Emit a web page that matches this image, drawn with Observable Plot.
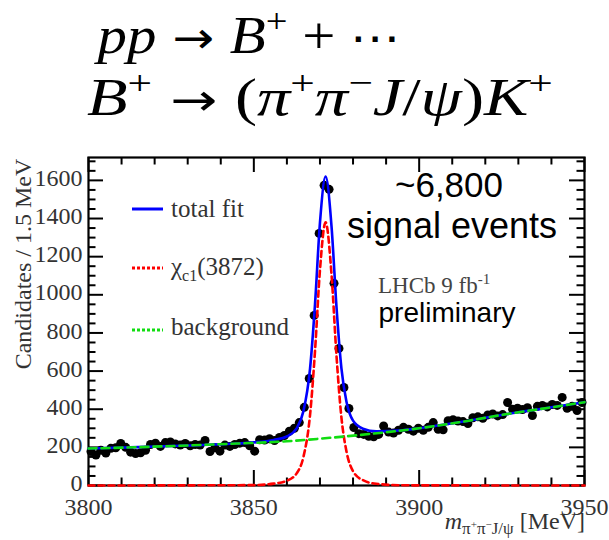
<!DOCTYPE html>
<html>
<head>
<meta charset="utf-8">
<script src="https://cdn.jsdelivr.net/npm/d3@7"></script>
<script src="https://cdn.jsdelivr.net/npm/@observablehq/plot@0.6"></script>
<style>
  html, body { margin: 0; padding: 0; background: white; }
  #wrap { position: relative; width: 609px; height: 540px; overflow: hidden; }
  #wrap > svg { position: absolute; left: 0; top: 0; }
  #overlay { pointer-events: none; }
</style>
</head>
<body>
<div id="wrap"></div>
<script>
// ---- data ----
const binStart = 3800, binWidth = 1.5;
const counts = [
  178, 160, 185, 170, 195, 198, 220, 200, 175, 168,
  172, 185, 215, 222, 205, 225, 228, 218, 212, 220,
  208, 215, 212, 236, 178, 198, 180, 212, 205, 215,
  222, 225, 208, 180, 240, 238, 245, 236, 252, 262,
  285, 300, 330, 410, 561, 892, 1322, 1574, 1553, 1060,
  719, 514, 404, 304, 272, 268, 258, 255, 268, 312,
  280, 275, 290, 305, 295, 285, 300, 290, 305, 330,
  295, 292, 340, 345, 338, 335, 325, 355, 360, 352,
  370, 375, 365, 372, 435, 400, 405, 398, 408, 367,
  415, 420, 412, 425, 420, 462, 405, 415, 393, 435
];
// total fit (blue)
const totalMass = [3800, 3815, 3830, 3845, 3850, 3856, 3860, 3863, 3865, 3867, 3868.5, 3870, 3871.7, 3873.5, 3875, 3876.5, 3878, 3880, 3883, 3887, 3895, 3900, 3915, 3925, 3940, 3950];
const totalVal  = [194, 201, 210, 220, 226, 239, 257, 301, 390, 613, 950, 1378, 1620, 1358, 936, 613, 441, 340, 298, 284, 290, 300, 340, 370, 410, 437];
// chi_c1(3872) component (red)
const sigMass = [3800, 3850, 3856, 3860, 3863, 3865, 3867, 3868.5, 3870, 3871.7, 3873.5, 3875, 3876.5, 3878, 3880, 3883, 3887, 3895, 3950];
const sigVal  = [0, 2, 10, 25, 65, 150, 370, 705, 1130, 1380, 1105, 680, 355, 180, 75, 28, 9, 1, 0];
// background (green)
const bgMass = [3800, 3815, 3830, 3845, 3860, 3873, 3885, 3900, 3915, 3925, 3940, 3950];
const bgVal  = [194, 201, 210, 220, 232, 250, 270, 300, 340, 370, 410, 437];
// axes
const xMajor = [3800, 3850, 3900, 3950];
const xMinor = [3810, 3820, 3830, 3840, 3860, 3870, 3880, 3890, 3910, 3920, 3930, 3940];
const yMajor = [0, 200, 400, 600, 800, 1000, 1200, 1400, 1600];
const yMinor = [50, 100, 150, 250, 300, 350, 450, 500, 550, 650, 700, 750, 850, 900, 950, 1050, 1100, 1150, 1250, 1300, 1350, 1450, 1500, 1550, 1650, 1700];
const xDomain = [3800, 3950], yDomain = [0, 1720];

// ---- build tables ----
const points = counts.map((c, i) => ({m: binStart + binWidth * (i + 0.5), n: c}));
const totalT = totalMass.map((m, i) => ({m, v: totalVal[i]}));
const sigT = sigMass.map((m, i) => ({m, v: sigVal[i]}));
const bgT = bgMass.map((m, i) => ({m, v: bgVal[i]}));

const W = 609, H = 540, mT = 157, mB = 55, mL = 88, mR = 25;
const fw = W - mL - mR, fh = H - mT - mB;
const major = 15, minor = 7.5;

const chart = Plot.plot({
  width: W, height: H,
  marginTop: mT, marginBottom: mB, marginLeft: mL, marginRight: mR,
  x: {domain: xDomain},
  y: {domain: yDomain},
  style: {fontFamily: "Liberation Serif", fontSize: "24px", color: "#333", background: "white", overflow: "visible"},
  marks: [
    Plot.axisX(xMajor, {tickSize: 0, tickPadding: 12, tickFormat: d => String(d), label: null, fontSize: 24, fill: "#333"}),
    Plot.axisY(yMajor, {tickSize: 0, tickPadding: 6, tickFormat: d => String(d), label: null, fontSize: 24, fill: "#333", dy: -2}),
    // inward ticks on all four sides
    Plot.tickX(xMajor, {x: d => d, insetTop: fh - major, stroke: "black", strokeWidth: 2}),
    Plot.tickX(xMinor, {x: d => d, insetTop: fh - minor, stroke: "black", strokeWidth: 2}),
    Plot.tickX(xMajor, {x: d => d, insetBottom: fh - major, stroke: "black", strokeWidth: 2}),
    Plot.tickX(xMinor, {x: d => d, insetBottom: fh - minor, stroke: "black", strokeWidth: 2}),
    Plot.tickY(yMajor, {y: d => d, insetRight: fw - major, stroke: "black", strokeWidth: 2}),
    Plot.tickY(yMinor, {y: d => d, insetRight: fw - minor, stroke: "black", strokeWidth: 2}),
    Plot.tickY(yMajor, {y: d => d, insetLeft: fw - major, stroke: "black", strokeWidth: 2}),
    Plot.tickY(yMinor, {y: d => d, insetLeft: fw - minor, stroke: "black", strokeWidth: 2}),
    Plot.frame({stroke: "black", strokeWidth: 2.2}),
    Plot.dot(points, {x: "m", y: "n", r: 4.5, fill: "black", stroke: "none"}),
    Plot.line(totalT, {x: "m", y: "v", stroke: "#0000ff", strokeWidth: 2.6, curve: "monotone-x"}),
    Plot.line(sigT, {x: "m", y: "v", stroke: "#ff0000", strokeWidth: 2.6, strokeDasharray: "6,4", curve: "monotone-x"}),
    Plot.line(bgT, {x: "m", y: "v", stroke: "#11dd11", strokeWidth: 2.6, strokeDasharray: "8,5", curve: "monotone-x"})
  ]
});
document.getElementById("wrap").appendChild(chart);

// ---- overlay texts (title, labels, legend, annotations) ----
const serif = "Liberation Serif", sans = "Liberation Sans", sym = "DejaVu Sans";
const I = s => `<tspan font-style="italic">${s}</tspan>`;
const SUP = s => `<tspan font-size="34" dy="-21">${s}</tspan>`;
const BACK = (s, italic = false) => `<tspan dy="21"${italic ? ' font-style="italic"' : ''}>${s}</tspan>`;
const ARROW = `<tspan font-family="${sym}" font-size="44"> → </tspan>`;
const overlay = `
<svg id="overlay" width="${W}" height="${H}" xmlns="http://www.w3.org/2000/svg">
  <g font-family="${serif}" fill="black" font-size="52">
    <text id="t1" x="93" y="53">${I("pp")}${ARROW}${I("B")}${SUP("+")}${BACK(" + ")}<tspan font-family="${sym}" font-size="44">⋯</tspan></text>
    <text id="t2" x="87" y="115">${I("B")}${SUP("+")}<tspan dy="21" font-family="${sym}" font-size="44"> → </tspan>(${I("π")}${SUP("+")}${BACK("π", true)}${SUP("−")}${BACK("J", true)}/${I("ψ")})${I("K")}${SUP("+")}</text>
  </g>
  <text transform="translate(31,264) rotate(-90)" text-anchor="middle" font-family="${serif}" font-size="24" fill="#333">Candidates / 1.5 MeV</text>
  <text x="585" y="529" text-anchor="end" font-family="${serif}" font-size="24" fill="#333"><tspan font-style="italic">m</tspan><tspan font-size="17" dy="5">π</tspan><tspan font-size="11" dy="-6">+</tspan><tspan font-size="17" dy="6">π</tspan><tspan font-size="11" dy="-6">−</tspan><tspan font-size="17" dy="6">J/ψ</tspan><tspan dy="-5"> [MeV]</tspan></text>
  <g font-family="${serif}" font-size="25" fill="#333">
    <line x1="132" x2="163" y1="209" y2="209" stroke="#0000ff" stroke-width="3"/>
    <text x="171" y="217">total fit</text>
    <line x1="132" x2="163" y1="268" y2="268" stroke="#ff0000" stroke-width="3" stroke-dasharray="3,2"/>
    <text x="171" y="275">χ<tspan font-size="16" dy="6">c1</tspan><tspan dy="-6">(3872)</tspan></text>
    <line x1="132" x2="163" y1="330" y2="330" stroke="#11dd11" stroke-width="3" stroke-dasharray="3,2"/>
    <text x="171" y="335">background</text>
  </g>
  <g font-family="${sans}" fill="black" text-anchor="middle">
    <text x="449" y="197" font-size="35">~6,800</text>
    <text x="452" y="238" font-size="36">signal events</text>
    <text x="447" y="322" font-size="28">preliminary</text>
  </g>
  <text x="378" y="293" font-family="${serif}" font-size="23" fill="#444">LHCb 9 fb<tspan font-size="15" dy="-9">-1</tspan></text>
</svg>`;
document.getElementById("wrap").insertAdjacentHTML("beforeend", overlay);

// stretch the two formula lines to the widths they take in the reference
function fit(id, x0, width) {
  const el = document.getElementById(id);
  const bb = el.getBBox();
  if (!bb.width) return;
  const sx = width / bb.width;
  el.setAttribute("transform", `translate(${x0},0) scale(${sx},1) translate(${-bb.x},0)`);
}
fit("t1", 93, 307);
fit("t2", 87, 466);
</script>
</body>
</html>
